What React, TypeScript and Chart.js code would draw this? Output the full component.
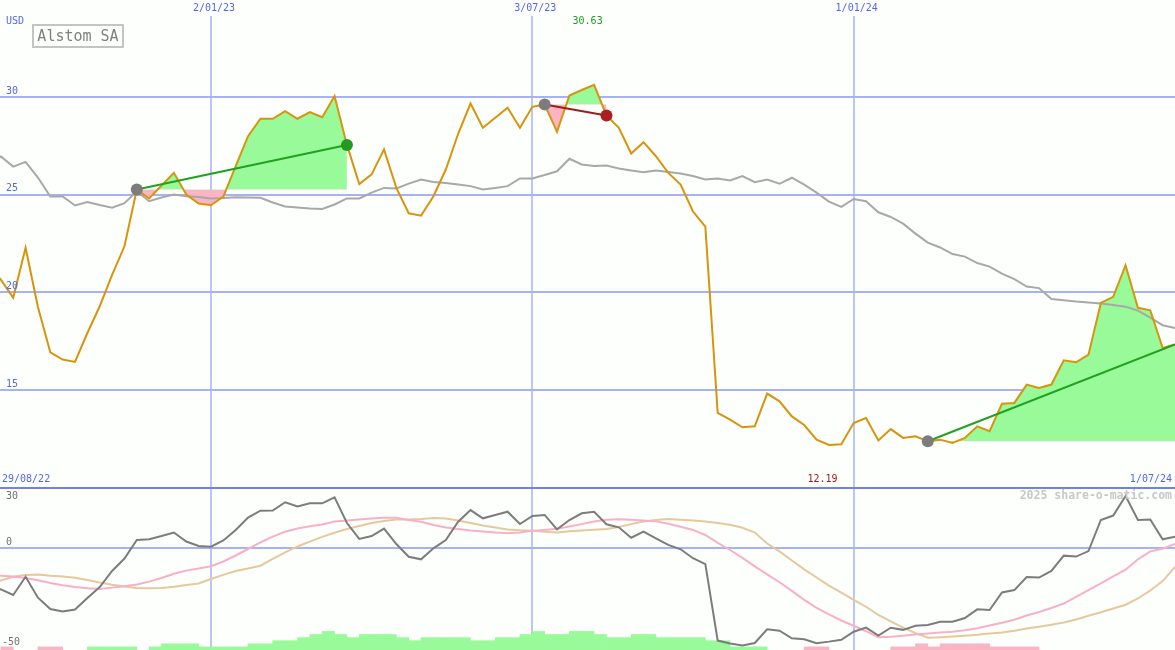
import React, { useEffect, useRef } from "react";
import { Chart, registerables } from "chart.js";
Chart.register(...registerables);

// Weekly data, index 0 = 29/08/22 ... index 96 = 1/07/24
const firstDateLabel = "29/08/22";
const lastDateLabel = "1/07/24";
const dateTickIndex = [18, 44, 70];
const dateTickLabels = ["2/01/23", "3/07/23", "1/01/24"];
const priceTicks = [15, 20, 25, 30];
const oscTicks = [30, 0, -50];

const price = [
  21.3, 20.65, 19.72, 22.28, 19.25, 16.93, 16.56, 16.44, 17.92, 19.29,
  20.9, 22.36, 25.27, 24.81, 25.47, 26.12, 25.01, 24.55, 24.46, 24.9,
  26.46, 28.0, 28.89, 28.89, 29.28, 28.89, 29.23, 28.97, 30.05, 27.55,
  25.55, 26.04, 27.32, 25.35, 24.05, 23.93, 24.92, 26.29, 28.12, 29.67,
  28.43, 28.94, 29.45, 28.43, 29.5, 29.62, 28.22, 30.08, 30.36, 30.63,
  29.06, 28.43, 27.11, 27.69, 26.97, 26.12, 25.52, 24.14, 23.37, 13.83,
  13.48, 13.09, 13.14, 14.82, 14.42, 13.65, 13.21, 12.46, 12.19, 12.22,
  13.31, 13.57, 12.42, 13.0, 12.55, 12.63, 12.38, 12.46, 12.29, 12.55,
  13.14, 12.89, 14.3, 14.34, 15.28, 15.11, 15.28, 16.52, 16.42, 16.81,
  19.46, 19.77, 21.39, 19.21, 19.08, 17.16, 17.33,
];

const movingAvg = [
  26.7, 26.96, 26.44, 26.68, 25.88, 24.91, 24.91, 24.45, 24.63, 24.47,
  24.34, 24.57, 25.18, 24.67, 24.86, 25.01, 24.92, 24.88, 24.81, 24.83,
  24.87, 24.86, 24.84, 24.6, 24.4, 24.34, 24.29, 24.27, 24.5, 24.81,
  24.81, 25.11, 25.35, 25.32, 25.57, 25.78, 25.65, 25.6, 25.52, 25.44,
  25.27, 25.34, 25.44, 25.83, 25.83, 26.01, 26.2, 26.84, 26.55, 26.47,
  26.5, 26.34, 26.24, 26.15, 26.24, 26.16, 26.09, 25.96, 25.78, 25.83,
  25.73, 25.95, 25.64, 25.78, 25.56, 25.87, 25.52, 25.11, 24.65, 24.38,
  24.78, 24.67, 24.1, 23.86, 23.52, 23.01, 22.55, 22.3, 21.96, 21.83,
  21.5, 21.32, 20.96, 20.68, 20.3, 20.22, 19.66, 19.6, 19.53, 19.48,
  19.43, 19.35, 19.27, 19.07, 18.71, 18.32, 18.18,
];

const oscFast = [
  -24, -27.1, -30.7, -18.8, -32.5, -39.9, -41.5, -40.2, -32.7, -25.5,
  -15.0, -6.9, 5.2, 5.75, 7.8, 10.1, 4.25, 1.3, 0.85, 4.9,
  11.8, 19.9, 24.4, 24.5, 29.9, 27.1, 29.2, 29.2, 33.1, 16.3,
  5.9, 7.8, 12.7, 2.6, -5.7, -7.4, -0.2, 5.2, 17.2, 24.8,
  19.4, 21.6, 23.7, 15.7, 20.9, 21.6, 12.2, 18.3, 22.7, 23.7,
  15.5, 13.5, 6.7, 10.7, 6.3, 2.0, -0.85, -6.7, -10.5, -60.5,
  -62.4, -63.7, -62.1, -53.1, -54.1, -59.0, -59.6, -62.2, -61.2, -60.0,
  -54.7, -52.0, -57.2, -52.1, -53.5, -50.8, -50.3, -48.2, -48.2, -45.8,
  -40.1, -40.5, -29.1, -27.5, -19.0, -19.3, -15.0, -5.0, -5.6, -2.0,
  18.3, 21.2, 34.0, 18.3, 18.6, 5.7, 7.4,
];

const oscSlow = [
  -17.6, -18.1, -18.6, -19.6, -21.1, -22.9, -24.4, -25.5, -26.3, -26.8,
  -25.9, -25.0, -23.9, -22.0, -19.6, -16.8, -14.8, -13.4, -11.9, -8.8,
  -4.9, -0.65, 3.6, 7.4, 10.6, 12.7, 14.2, 15.4, 17.3, 18.0,
  18.6, 19.2, 19.8, 19.8, 18.3, 17.1, 15.0, 13.4, 12.4, 11.4,
  10.8, 10.1, 9.7, 10.1, 11.2, 11.8, 12.5, 14.0, 15.6, 17.3,
  18.4, 18.8, 18.4, 18.0, 17.4, 15.8, 13.9, 11.8, 8.5, 3.4,
  -1.3, -6.5, -12.0, -17.2, -22.4, -28.0, -33.9, -39.1, -43.4, -47.4,
  -50.8, -54.4, -58.4, -58.0, -57.3, -56.6, -55.9, -55.3, -54.8, -53.8,
  -52.4, -50.7, -48.9, -46.9, -44.1, -41.8, -39.2, -36.3, -32.0, -27.6,
  -23.2, -18.6, -14.2, -7.4, -2.2, -0.5, 2.6,
];

const oscSlower = [
  -23.5, -21.2, -18.8, -17.6, -17.4, -18.2, -18.7, -19.4, -20.9, -22.6,
  -24.0, -25.2, -26.1, -26.3, -26.2, -25.3, -24.2, -23.2, -20.3, -17.6,
  -15.0, -13.4, -11.6, -7.1, -2.8, 1.0, 4.2, 7.3, 10.0, 12.4,
  14.4, 16.3, 17.6, 18.6, 18.6, 19.0, 19.6, 19.3, 18.0, 16.3,
  14.7, 13.4, 12.1, 11.6, 11.3, 10.6, 10.1, 10.9, 11.4, 11.9,
  12.4, 13.7, 15.6, 17.3, 18.3, 19.0, 18.5, 18.0, 17.3, 16.3,
  15.2, 13.2, 10.1, 2.9, -2.2, -8.2, -14.0, -19.3, -24.6, -29.2,
  -33.9, -38.4, -43.8, -48.0, -52.1, -55.6, -58.6, -58.3, -57.8, -57.3,
  -56.7, -55.9, -55.2, -54.1, -52.6, -51.5, -50.1, -48.7, -46.7, -44.3,
  -42.0, -39.5, -37.1, -33.0, -27.8, -21.6, -12.4,
];

// one value per week interval (between index k and k+1); + green, - pink
const histLevels = [
  0, -1, 0, 0, -1, -1, 0, 0, 1, 1,
  1, 1, 0, 1, 2, 2, 2, 1, 1, 1,
  1, 2, 2, 3, 3, 4, 5, 6, 5, 4,
  5, 5, 5, 4, 3, 4, 4, 4, 4, 3,
  3, 4, 4, 5, 6, 5, 5, 6, 6, 5,
  4, 4, 5, 5, 4, 4, 4, 4, 3, 3,
  1, 1, 1, 0, 0, 0, -1, -1, 0, 0,
  0, 0, 0, -1, -1, -2, -1, -2, -2, -2,
  -2, -1, -1, -1, -1, 0, 0, 0, 0, 0,
  0, 0, 0, 0, 0, 0,
];

const trendStart = [12, 45, 76];
const trendEnd = [29, 50, 96];
const trendUp = [true, false, true];
const trendEndDot = [true, true, false];

const BG = "#fdfffd";
const BLUE_TXT = "#5566ee";
const GRID = "#a6b2f2";
const FILL_UP = "#98fa98";
const FILL_DOWN = "#fab4c4";

export default function App() {
  const ref = useRef<HTMLCanvasElement>(null);

  useEffect(() => {
    const canvas = ref.current!;
    const pts = (arr: number[]) => arr.map((v, i) => ({ x: i, y: v }));

    const datasets: any[] = [];
    datasets.push({
      type: "bar",
      data: histLevels.map((v, k) => ({ x: k + 0.5, y: v === 0 ? null : Math.abs(v) })),
      backgroundColor: histLevels.map((v) => (v > 0 ? FILL_UP : FILL_DOWN)),
      borderWidth: 0,
      barPercentage: 1,
      categoryPercentage: 1,
      grouped: false,
      yAxisID: "y3",
      order: 30,
    });
    datasets.push({ type: "line", data: pts(oscSlower), borderColor: "#e6c89c", borderWidth: 2, yAxisID: "y2", order: 25 });
    datasets.push({ type: "line", data: pts(oscSlow), borderColor: "#f8b0c8", borderWidth: 2, yAxisID: "y2", order: 24 });
    datasets.push({ type: "line", data: pts(oscFast), borderColor: "#7c7c7c", borderWidth: 2, yAxisID: "y2", order: 23 });

    trendStart.forEach((s, n) => {
      const e = trendEnd[n];
      datasets.push({
        type: "line",
        data: price.slice(s, e + 1).map((v, j) => ({ x: s + j, y: v })),
        borderWidth: 0,
        borderColor: "rgba(0,0,0,0)",
        fill: { target: { value: price[s] }, above: FILL_UP, below: FILL_DOWN },
        yAxisID: "y",
        order: 20,
      });
    });

    datasets.push({ type: "line", data: pts(movingAvg), borderColor: "#a8a8a8", borderWidth: 2, yAxisID: "y", order: 12 });
    datasets.push({ type: "line", data: pts(price), borderColor: "#d8940c", borderWidth: 2, yAxisID: "y", order: 10 });

    trendStart.forEach((s, n) => {
      const e = trendEnd[n];
      const col = trendUp[n] ? "#22a022" : "#a01c1c";
      datasets.push({
        type: "line",
        data: [{ x: s, y: price[s] }, { x: e, y: price[e] }],
        borderColor: col,
        borderWidth: 2,
        pointRadius: [6, trendEndDot[n] ? 6 : 0],
        pointBackgroundColor: ["#7c7c7c", trendUp[n] ? "#229a22" : "#aa2020"],
        pointBorderWidth: 0,
        yAxisID: "y",
        order: 1,
      });
    });

    const mono = "DejaVu Sans Mono";

    const decor = {
      id: "decor",
      beforeDraw(chart: any) {
        const c = chart.ctx;
        c.save();
        c.fillStyle = BG;
        c.fillRect(0, 0, chart.width, chart.height);
        c.restore();
      },
      beforeDatasetsDraw(chart: any) {
        const c = chart.ctx;
        const { x, y, y2 } = chart.scales;
        const W = chart.width;
        const H = chart.height;
        c.save();
        c.strokeStyle = GRID;
        c.lineWidth = 1.5;
        dateTickIndex.forEach((i) => {
          const px = Math.round(x.getPixelForValue(i));
          c.beginPath();
          c.moveTo(px, 16);
          c.lineTo(px, H);
          c.stroke();
        });
        c.lineWidth = 2;
        priceTicks.forEach((v) => {
          const py = Math.round(y.getPixelForValue(v));
          c.beginPath();
          c.moveTo(0, py);
          c.lineTo(W, py);
          c.stroke();
        });
        const z = Math.round(y2.getPixelForValue(0));
        c.beginPath();
        c.moveTo(0, z);
        c.lineTo(W, z);
        c.stroke();
        // panel separator at the bottom of the price panel
        c.strokeStyle = "#7082ea";
        const sep = Math.round(y.getPixelForValue(10));
        c.beginPath();
        c.moveTo(0, sep);
        c.lineTo(W, sep);
        c.stroke();
        c.restore();
      },
      afterDraw(chart: any) {
        const c = chart.ctx;
        const { x, y, y2 } = chart.scales;
        const W = chart.width;
        const H = chart.height;
        c.save();
        c.textBaseline = "middle";
        c.font = `10px "${mono}"`;
        c.fillStyle = BLUE_TXT;
        c.textAlign = "center";
        dateTickIndex.forEach((i, n) => {
          c.fillText(dateTickLabels[n], x.getPixelForValue(i) + 3, 8);
        });
        c.textAlign = "left";
        c.fillText("USD", 6, 21);
        priceTicks.forEach((v) => {
          c.fillText(String(v), 6, y.getPixelForValue(v) - 6);
        });
        const sepY = y.getPixelForValue(10);
        c.fillText(firstDateLabel, 2, sepY - 8);
        c.textAlign = "right";
        c.fillText(lastDateLabel, W - 3, sepY - 8);

        // max / min labels (visible range, index >= 1)
        let maxI = 1;
        let minI = 1;
        for (let i = 1; i < price.length; i++) {
          if (price[i] > price[maxI]) maxI = i;
          if (price[i] < price[minI]) minI = i;
        }
        c.textAlign = "center";
        c.fillStyle = "#229a22";
        c.fillText(price[maxI].toFixed(2), x.getPixelForValue(maxI) - 6.5, 21);
        c.fillStyle = "#a01c1c";
        c.fillText(price[minI].toFixed(2), x.getPixelForValue(minI) - 6.5, sepY - 8);

        // oscillator ticks (the lowest one sits on the bottom edge)
        c.fillStyle = "#707070";
        c.textAlign = "left";
        const lowest = Math.min(...oscTicks);
        oscTicks.forEach((v) => {
          const py = v === lowest ? H - 8 : y2.getPixelForValue(v) - 6;
          c.fillText(String(v), v < 0 ? 2 : 6, py);
        });

        // watermark
        c.font = `bold 11.5px "${mono}"`;
        c.fillStyle = "#c8c8c8";
        c.textAlign = "right";
        c.fillText("2025 share-o-matic.com", W - 3, 496);

        // title box
        c.fillStyle = BG;
        c.fillRect(33, 25, 90, 22);
        c.strokeStyle = "#c4c4c4";
        c.lineWidth = 2;
        c.strokeRect(33, 25, 90, 22);
        c.font = `15px "${mono}"`;
        c.fillStyle = "#808080";
        c.textAlign = "center";
        c.fillText("Alstom SA", 78, 37);
        c.restore();
      },
    };

    const chart = new Chart(canvas, {
      type: "line",
      data: { datasets },
      options: {
        responsive: false,
        animation: false,
        events: [],
        layout: { padding: 0, autoPadding: false },
        elements: { point: { radius: 0 }, line: { tension: 0 } },
        plugins: { legend: { display: false }, tooltip: { enabled: false } },
        scales: {
          x: { type: "linear", min: 0.93, max: 96, offset: false, display: false, grid: { offset: false } },
          y: { type: "linear", min: 1.69, max: 34.97, display: false },
          y2: { type: "linear", min: -66.67, max: 358.17, display: false },
          y3: { type: "linear", min: 0, max: 210, display: false },
        },
      } as any,
      plugins: [decor],
    } as any);

    return () => chart.destroy();
  }, []);

  return (
    <div style={{ position: "absolute", left: 0, top: 0, width: 1175, height: 650 }}>
      <canvas ref={ref} width={1175} height={650} style={{ display: "block" }} />
    </div>
  );
}
